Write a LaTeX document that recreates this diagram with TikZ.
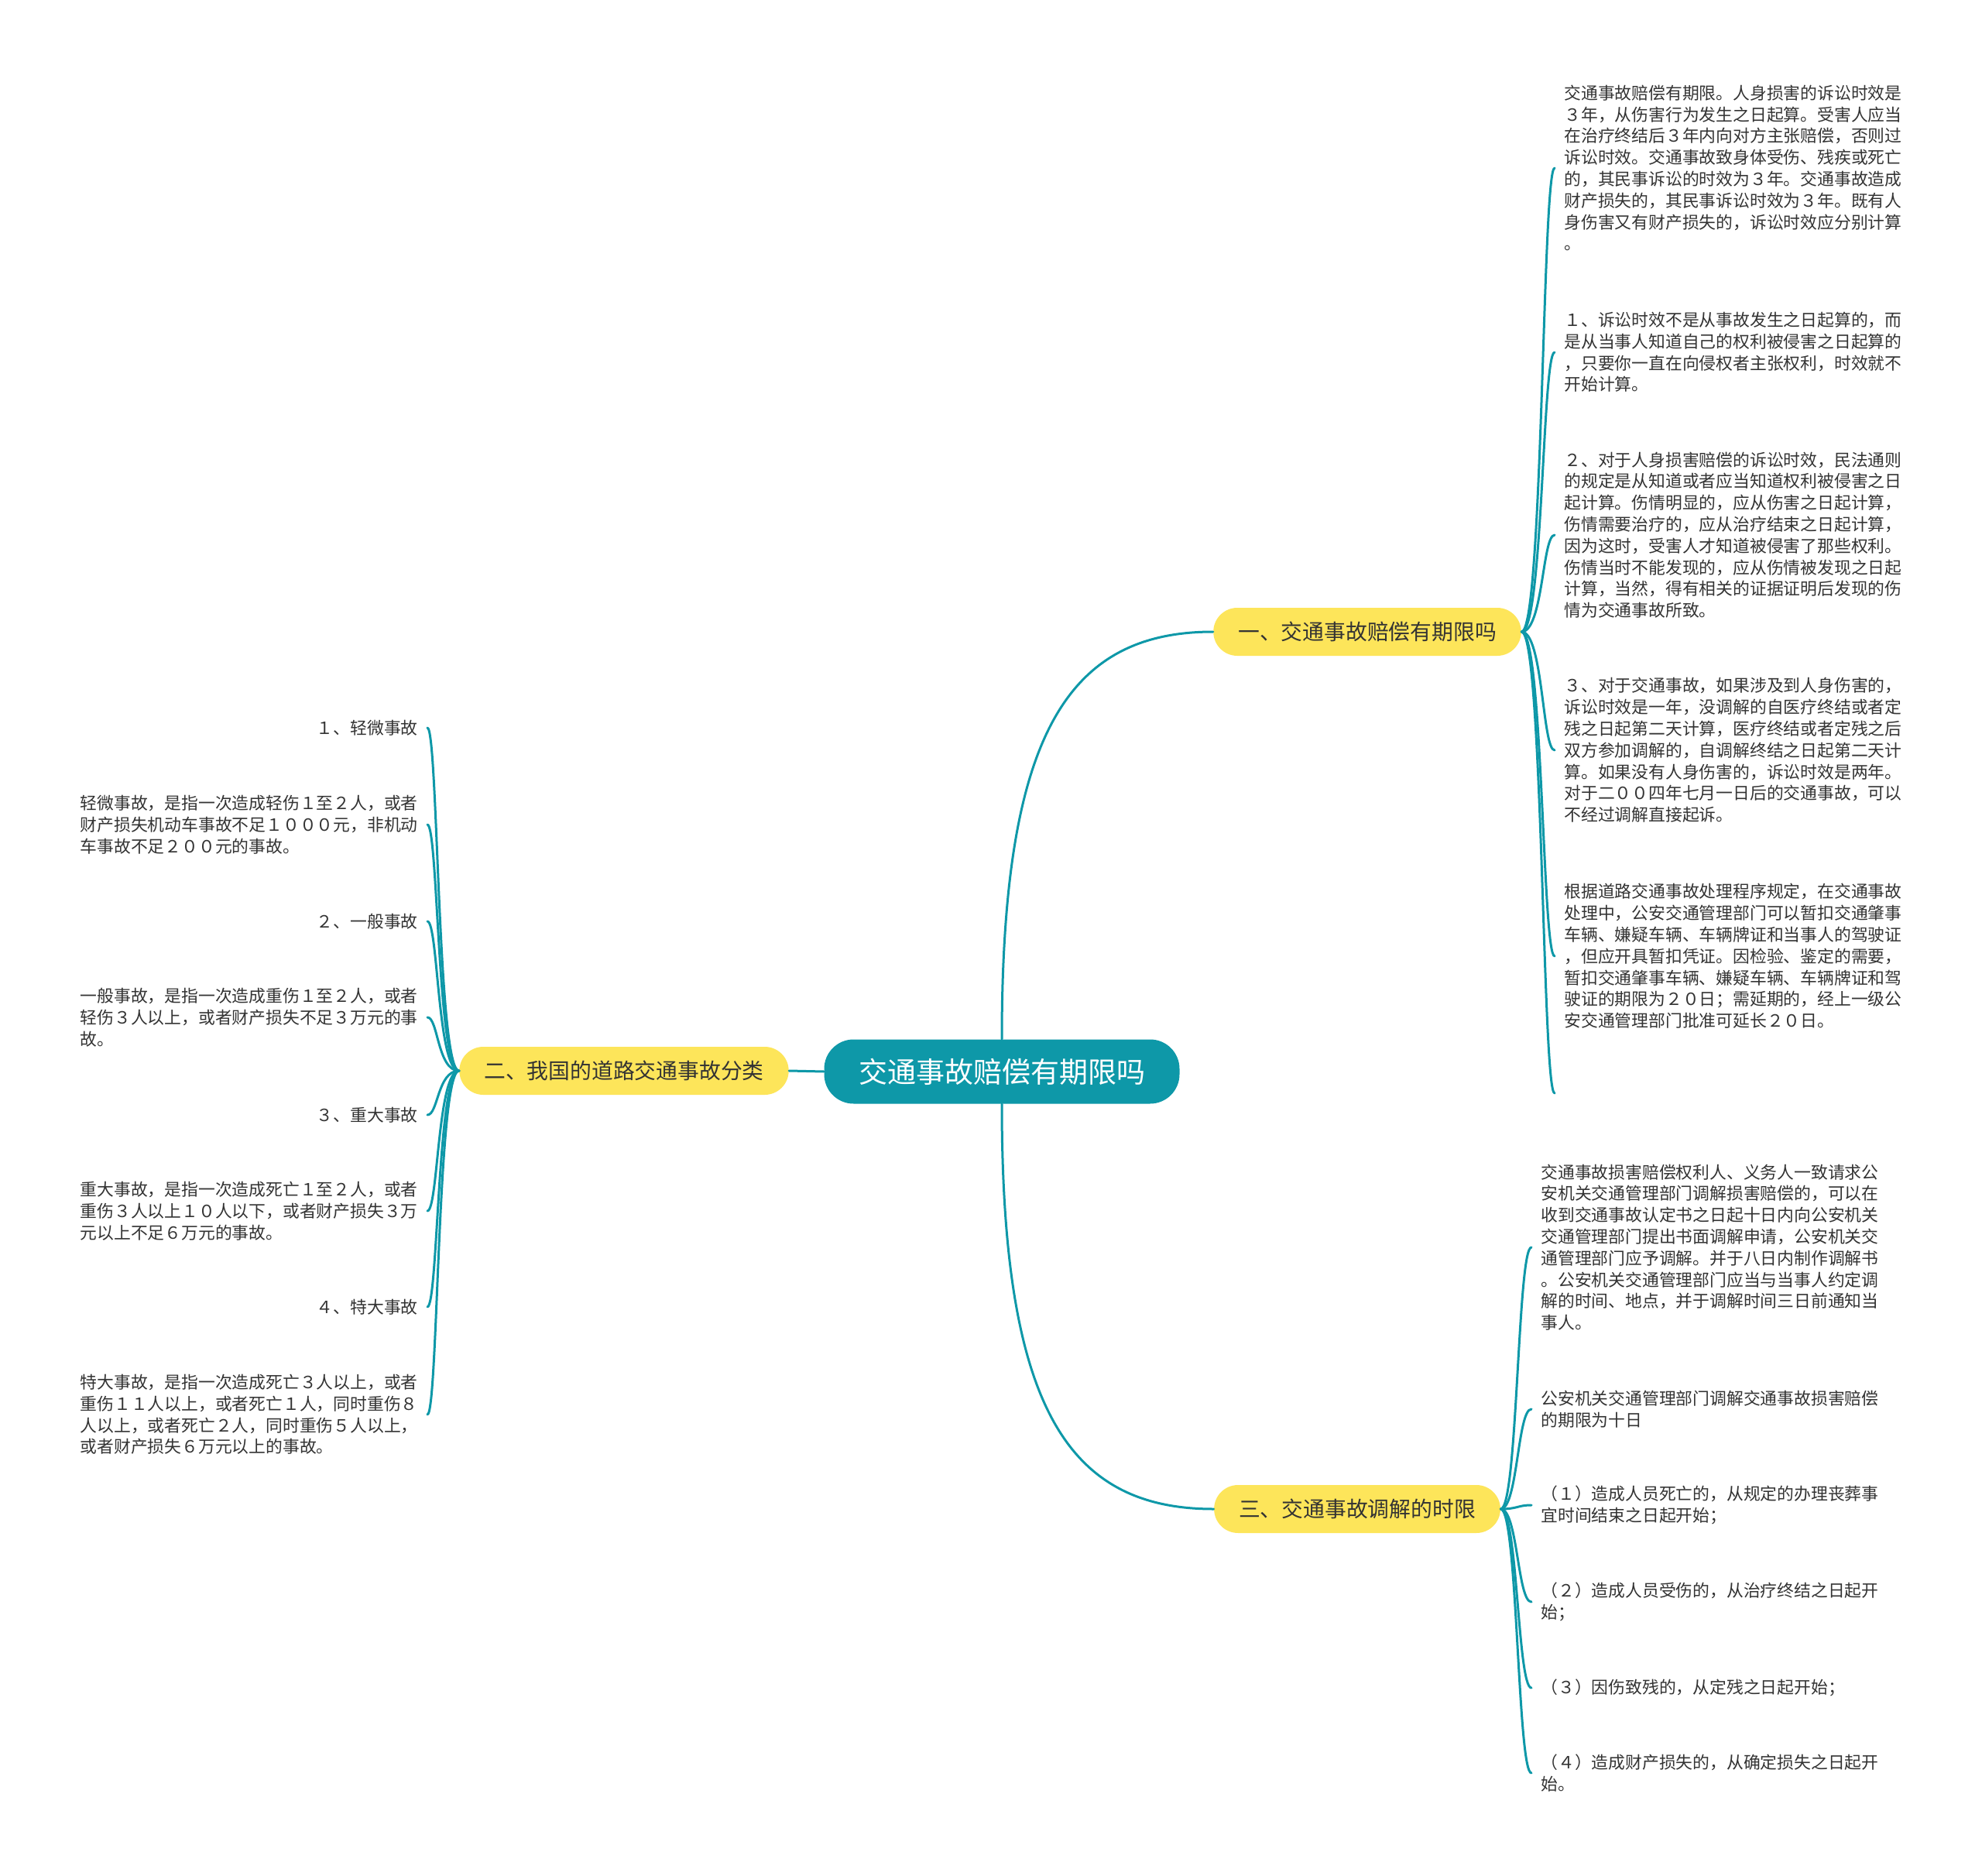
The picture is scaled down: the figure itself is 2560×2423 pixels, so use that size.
\documentclass[tikz,border=0pt]{standalone}
\usepackage{fontspec}
\newfontfamily\cjk{Noto Sans CJK SC}
\definecolor{mmteal}{RGB}{14,152,168}
\definecolor{mmyellow}{RGB}{253,229,90}
\definecolor{mmtext}{RGB}{51,51,51}
\tikzset{
  rootbox/.style={rectangle, fill=mmteal, text=white,
    minimum width=229.5pt, minimum height=41.5pt,
    rounded corners=19pt, font=\cjk\fontsize{18.5}{22}\selectfont},
  topicbox/.style={rectangle, fill=mmyellow, text=mmtext,
    inner xsep=16pt, minimum height=31pt,
    rounded corners=15.5pt, font=\cjk\fontsize{13.9}{16}\selectfont},
  notebox/.style={rectangle, align=left, text=mmtext,
    inner xsep=6pt, inner ysep=0pt, font=\cjk\fontsize{10.9}{13.9}\selectfont},
  link/.style={draw=mmteal, line width=1.5pt, line cap=round}
}

\begin{document}
\begin{tikzpicture}[x=0.5pt, y=-0.5pt]
  \useasboundingbox (0,0) rectangle (2560,2423);

  % Centre and main topics
  \node[rootbox] (root) at (1294, 1384) {交通事故赔偿有期限吗};
  \node[topicbox] (topic1) at (1766, 816) {一、交通事故赔偿有期限吗};
  \node[topicbox] (topic2) at (806, 1383) {二、我国的道路交通事故分类};
  \node[topicbox] (topic3) at (1753, 1949) {三、交通事故调解的时限};

  % Notes of topic 1
  \node[notebox, anchor=west] (note11) at (2008, 217) {交通事故赔偿有期限。人身损害的诉讼时效是\\３年，从伤害行为发生之日起算。受害人应当\\在治疗终结后３年内向对方主张赔偿，否则过\\诉讼时效。交通事故致身体受伤、残疾或死亡\\的，其民事诉讼的时效为３年。交通事故造成\\财产损失的，其民事诉讼时效为３年。既有人\\身伤害又有财产损失的，诉讼时效应分别计算\\。};
  \node[notebox, anchor=west] (note12) at (2008, 455) {１、诉讼时效不是从事故发生之日起算的，而\\是从当事人知道自己的权利被侵害之日起算的\\，只要你一直在向侵权者主张权利，时效就不\\开始计算。};
  \node[notebox, anchor=west] (note13) at (2008, 691) {２、对于人身损害赔偿的诉讼时效，民法通则\\的规定是从知道或者应当知道权利被侵害之日\\起计算。伤情明显的，应从伤害之日起计算，\\伤情需要治疗的，应从治疗结束之日起计算，\\因为这时，受害人才知道被侵害了那些权利。\\伤情当时不能发现的，应从伤情被发现之日起\\计算，当然，得有相关的证据证明后发现的伤\\情为交通事故所致。};
  \node[notebox, anchor=west] (note14) at (2008, 969) {３、对于交通事故，如果涉及到人身伤害的，\\诉讼时效是一年，没调解的自医疗终结或者定\\残之日起第二天计算，医疗终结或者定残之后\\双方参加调解的，自调解终结之日起第二天计\\算。如果没有人身伤害的，诉讼时效是两年。\\对于二００四年七月一日后的交通事故，可以\\不经过调解直接起诉。};
  \node[notebox, anchor=west] (note15) at (2008, 1235) {根据道路交通事故处理程序规定，在交通事故\\处理中，公安交通管理部门可以暂扣交通肇事\\车辆、嫌疑车辆、车辆牌证和当事人的驾驶证\\，但应开具暂扣凭证。因检验、鉴定的需要，\\暂扣交通肇事车辆、嫌疑车辆、车辆牌证和驾\\驶证的期限为２０日；需延期的，经上一级公\\安交通管理部门批准可延长２０日。};
  \coordinate (note16) at (2008, 1412);

  % Notes of topic 2
  \node[notebox, anchor=east] (note21) at (552, 940) {１、轻微事故};
  \node[notebox, anchor=east] (note22) at (552, 1065) {轻微事故，是指一次造成轻伤１至２人，或者\\财产损失机动车事故不足１０００元，非机动\\车事故不足２００元的事故。};
  \node[notebox, anchor=east] (note23) at (552, 1190) {２、一般事故};
  \node[notebox, anchor=east] (note24) at (552, 1314) {一般事故，是指一次造成重伤１至２人，或者\\轻伤３人以上，或者财产损失不足３万元的事\\故。};
  \node[notebox, anchor=east] (note25) at (552, 1440) {３、重大事故};
  \node[notebox, anchor=east] (note26) at (552, 1564) {重大事故，是指一次造成死亡１至２人，或者\\重伤３人以上１０人以下，或者财产损失３万\\元以上不足６万元的事故。};
  \node[notebox, anchor=east] (note27) at (552, 1688) {４、特大事故};
  \node[notebox, anchor=east] (note28) at (552, 1827) {特大事故，是指一次造成死亡３人以上，或者\\重伤１１人以上，或者死亡１人，同时重伤８\\人以上，或者死亡２人，同时重伤５人以上，\\或者财产损失６万元以上的事故。};

  % Notes of topic 3
  \node[notebox, anchor=west] (note31) at (1978, 1611) {交通事故损害赔偿权利人、义务人一致请求公\\安机关交通管理部门调解损害赔偿的，可以在\\收到交通事故认定书之日起十日内向公安机关\\交通管理部门提出书面调解申请，公安机关交\\通管理部门应予调解。并于八日内制作调解书\\。公安机关交通管理部门应当与当事人约定调\\解的时间、地点，并于调解时间三日前通知当\\事人。};
  \node[notebox, anchor=west] (note32) at (1978, 1820) {公安机关交通管理部门调解交通事故损害赔偿\\的期限为十日};
  \node[notebox, anchor=west] (note33) at (1978, 1944) {（１）造成人员死亡的，从规定的办理丧葬事\\宜时间结束之日起开始；};
  \node[notebox, anchor=west] (note34) at (1978, 2069) {（２）造成人员受伤的，从治疗终结之日起开\\始；};
  \node[notebox, anchor=west] (note35) at (1978, 2180) {（３）因伤致残的，从定残之日起开始；};
  \node[notebox, anchor=west] (note36) at (1978, 2290) {（４）造成财产损失的，从确定损失之日起开\\始。};

  % Links
  \draw[link] (root.north) .. controls +(0,-390) and +(-190,0) .. (topic1.west);
  \draw[link] (root.west) -- (topic2.east);
  \draw[link] (root.south) .. controls +(0,390) and +(-190,0) .. (topic3.west);

  \foreach \n in {note11,note12,note13,note14,note15}
    \draw[link] (topic1.east) .. controls +(28,0) and +(-16,0) .. (\n.west);
  \draw[link] (topic1.east) .. controls +(28,0) and +(-16,0) .. (note16);
  \foreach \n in {note21,note22,note23,note24,note25,note26,note27,note28}
    \draw[link] (topic2.west) .. controls +(-28,0) and +(14,0) .. (\n.east);
  \foreach \n in {note31,note32,note33,note34,note35,note36}
    \draw[link] (topic3.east) .. controls +(22,0) and +(-18,0) .. (\n.west);
\end{tikzpicture}
\end{document}
